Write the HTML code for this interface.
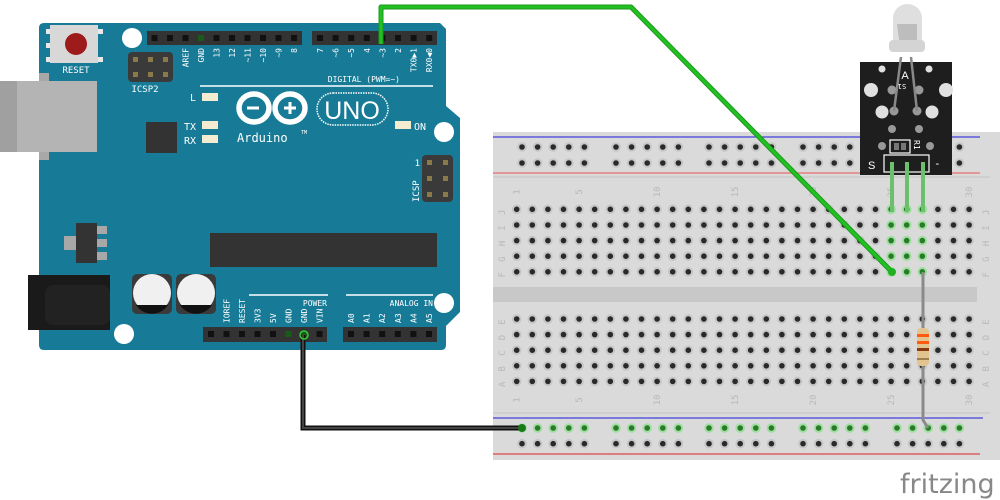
<!DOCTYPE html>
<html><head><meta charset="utf-8"><style>
html,body{margin:0;padding:0;background:#fff;width:1000px;height:500px;overflow:hidden}
svg{display:block}
text{font-family:"DejaVu Sans Mono","Liberation Mono",monospace}
</style></head><body>
<svg id="s" width="1000" height="500" viewBox="0 0 1000 500" xmlns="http://www.w3.org/2000/svg">
<!-- Breadboard -->
<rect x="493" y="132" width="507" height="328" fill="#dadada"/>
<rect x="493" y="287" width="484" height="15" fill="#c8c8c8"/>
<line x1="493" y1="137" x2="980" y2="137" stroke="#1a1ae0" stroke-width="1"/>
<line x1="493" y1="173" x2="980" y2="173" stroke="#e88080" stroke-width="1.5"/>
<line x1="493" y1="177" x2="990" y2="177" stroke="#c4c4c4" stroke-width="1"/>
<line x1="493" y1="413" x2="990" y2="413" stroke="#c4c4c4" stroke-width="1"/>
<line x1="493" y1="418" x2="983" y2="418" stroke="#1a1ae0" stroke-width="1"/>
<line x1="493" y1="454" x2="980" y2="454" stroke="#e02020" stroke-width="1"/>
<g id="holes"></g>
<g id="bblabels" fill="#b8b8b8" font-size="9"></g>

<!-- Arduino -->
<path d="M44,23 L440,23 L446,29 L446,106 L460,118 L460,312 L446,326 L446,345 Q446,350 441,350 L44,350 Q39,350 39,345 L39,28 Q39,23 44,23 Z" fill="#177b97"/>
<rect x="39" y="73" width="10" height="87" fill="#a8a8a8"/>
<rect x="0" y="81" width="97" height="71" fill="#b4b4b4"/>
<rect x="0" y="81" width="17" height="71" fill="#a0a0a0"/>
<circle cx="132" cy="38" r="10" fill="#fff"/>
<circle cx="444" cy="132" r="10" fill="#fff"/>
<circle cx="124" cy="334" r="10" fill="#fff"/>
<circle cx="444" cy="303" r="10" fill="#fff"/>
<!-- reset -->
<rect x="46" y="29" width="6" height="5" fill="#e8e8e8"/><rect x="46" y="43" width="6" height="5" fill="#e8e8e8"/><rect x="46" y="57" width="6" height="5" fill="#e8e8e8"/>
<rect x="97" y="29" width="6" height="5" fill="#e8e8e8"/><rect x="97" y="57" width="6" height="5" fill="#e8e8e8"/>
<rect x="50" y="25" width="48" height="38" fill="#d8d8d8"/>
<circle cx="76" cy="44" r="11" fill="#9e1b1b"/>
<text x="76" y="73" font-size="9" fill="#fff" text-anchor="middle">RESET</text>
<!-- ICSP2 -->
<rect x="128" y="52" width="45" height="30" rx="4" fill="#3a3a3a"/>
<g fill="#8a7a4a"><rect x="133" y="57" width="5" height="5"/><rect x="148" y="57" width="5" height="5"/><rect x="163" y="57" width="5" height="5"/><rect x="133" y="72" width="5" height="5"/><rect x="148" y="72" width="5" height="5"/><rect x="163" y="72" width="5" height="5"/></g>
<text x="145" y="92" font-size="9" fill="#fff" text-anchor="middle">ICSP2</text>
<!-- headers -->
<rect x="147" y="31" width="155" height="14" fill="#333"/>
<rect x="312" y="31" width="125" height="14" fill="#333"/>
<rect x="203" y="327" width="124" height="15" fill="#333"/>
<rect x="343" y="327" width="94" height="15" fill="#333"/>
<g id="pins" fill="#111"></g>
<g id="plabels" fill="#fff" font-size="8"></g>
<line x1="200" y1="86" x2="433" y2="86" stroke="#fff" stroke-width="1.5"/>
<text x="400" y="82" font-size="8" fill="#fff" text-anchor="end">DIGITAL (PWM=~)</text>
<line x1="249" y1="295" x2="328" y2="295" stroke="#fff" stroke-width="1.5"/>
<line x1="346" y1="295" x2="433" y2="295" stroke="#fff" stroke-width="1.5"/>
<text x="327" y="306" font-size="8" fill="#fff" text-anchor="end">POWER</text>
<text x="433" y="306" font-size="8" fill="#fff" text-anchor="end">ANALOG IN</text>
<!-- LEDs -->
<g fill="#f4ecd0"><rect x="202" y="93" width="16" height="8"/><rect x="202" y="121" width="16" height="8"/><rect x="202" y="135" width="16" height="8"/><rect x="395" y="121" width="16" height="8"/></g>
<text x="190" y="101" font-size="10" fill="#fff">L</text>
<text x="184" y="130" font-size="10" fill="#fff">TX</text>
<text x="184" y="144" font-size="10" fill="#fff">RX</text>
<text x="414" y="130" font-size="10" fill="#fff">ON</text>
<!-- logo -->
<g fill="none" stroke="#fff" stroke-width="5.5">
<ellipse cx="254" cy="108" rx="15" ry="14"/><ellipse cx="290" cy="108" rx="15" ry="14"/></g>
<g stroke="#fff" stroke-width="3"><line x1="247" y1="108" x2="259" y2="108"/><line x1="284" y1="108" x2="296" y2="108"/><line x1="290" y1="102" x2="290" y2="114"/></g>
<rect x="317" y="93" width="71" height="32" rx="16" fill="none" stroke="#fff" stroke-width="1.5" stroke-dasharray="1.5 1"/>
<text x="352" y="119" font-size="25" fill="#fff" text-anchor="middle" style="font-family:'Liberation Sans',sans-serif">UNO</text>
<text x="237" y="142" font-size="12" fill="#fff">Arduino</text>
<text x="301" y="134" font-size="5" fill="#fff">TM</text>
<!-- chips -->
<rect x="146" y="122" width="31" height="31" fill="#333"/>
<rect x="210" y="233" width="227" height="34" fill="#333"/>
<rect x="64" y="236" width="12" height="14" fill="#a8a8a8"/>
<rect x="97" y="226" width="10" height="8" fill="#a8a8a8"/><rect x="97" y="239" width="10" height="8" fill="#a8a8a8"/><rect x="97" y="252" width="10" height="8" fill="#a8a8a8"/>
<rect x="76" y="223" width="21" height="40" fill="#333"/>
<!-- ICSP -->
<rect x="422" y="155" width="31" height="47" rx="4" fill="#3a3a3a"/>
<g fill="#8a7a4a"><rect x="427" y="160" width="5" height="5"/><rect x="443" y="160" width="5" height="5"/><rect x="427" y="176" width="5" height="5"/><rect x="443" y="176" width="5" height="5"/><rect x="427" y="192" width="5" height="5"/><rect x="443" y="192" width="5" height="5"/></g>
<text x="420" y="166" font-size="9" fill="#fff" text-anchor="end">1</text>
<text transform="translate(419,202) rotate(-90)" font-size="9" fill="#fff">ICSP</text>
<!-- power jack -->
<rect x="28" y="275" width="82" height="55" fill="#1a1a1a"/>
<rect x="45" y="285" width="65" height="40" rx="8" fill="#222"/>
<!-- caps -->
<rect x="132" y="274" width="40" height="40" rx="5" fill="#3a3a3a"/>
<rect x="176" y="274" width="40" height="40" rx="5" fill="#3a3a3a"/>
<circle cx="152" cy="293" r="19" fill="#f0f0f0"/><circle cx="196" cy="293" r="19" fill="#f0f0f0"/>
<path d="M136,305 L168,305 A19,19 0 0 1 136,305 Z" fill="#111"/>
<path d="M180,305 L212,305 A19,19 0 0 1 180,305 Z" fill="#111"/>

<!-- Sensor module -->
<rect x="860" y="62" width="92" height="113" fill="#1e1e1e"/>
<g fill="#e0e0e0"><circle cx="882" cy="69" r="3.5"/><circle cx="929" cy="69" r="3.5"/><circle cx="871" cy="90" r="7"/><circle cx="946" cy="90" r="7"/><circle cx="882" cy="112" r="6.5"/><circle cx="932" cy="112" r="6.5"/></g>
<g fill="#999"><circle cx="892" cy="90" r="4.5"/><circle cx="919" cy="90" r="4.5"/><circle cx="894" cy="111" r="4.5"/><circle cx="917" cy="111" r="4.5"/><circle cx="892" cy="129" r="4"/><circle cx="919" cy="129" r="4"/><circle cx="882" cy="146" r="4"/><circle cx="930" cy="146" r="4"/></g>
<line x1="901" y1="57" x2="894" y2="111" stroke="#888" stroke-width="2.5"/>
<line x1="911" y1="57" x2="917" y2="111" stroke="#888" stroke-width="2.5"/>
<rect x="890" y="140" width="20" height="13" fill="#1e1e1e" stroke="#fff" stroke-width="1.2"/>
<rect x="894" y="143" width="5" height="7" fill="#777"/><rect x="901" y="143" width="5" height="7" fill="#777"/>
<text transform="translate(914,140) rotate(90)" font-size="8" fill="#fff">R1</text>
<rect x="884" y="155" width="45" height="17" fill="none" stroke="#fff" stroke-width="1.2"/>
<text x="868" y="169" font-size="11" fill="#fff" style="font-family:'Liberation Sans',sans-serif">S</text>
<text x="934" y="167" font-size="11" fill="#fff">-</text>
<text x="905" y="79" font-size="11" fill="#fff" text-anchor="middle" style="font-family:'Liberation Sans',sans-serif">A</text>
<text transform="translate(902,84) rotate(180)" font-size="7" fill="#fff" text-anchor="middle">S1</text>
<!-- LED -->
<path d="M893,52 L893,18 A14.5,14 0 0 1 922,18 L922,52 Z" fill="#dcdcdc" opacity="0.9"/>
<rect x="889" y="40" width="36" height="12" rx="4" fill="#d4d4d4"/>
<path d="M897,24 L917,24 L917,40 L899,40 Z M899,26 L913,26 L899,38 Z" fill="#bdbdbd"/>
<!-- green legs -->
<g stroke="#6cbf6c" stroke-width="4"><line x1="892" y1="162" x2="892" y2="212"/><line x1="907" y1="162" x2="907" y2="212"/><line x1="923" y1="162" x2="923" y2="212"/></g>

<!-- resistor -->
<path d="M923,272 L923,420 L928,428" fill="none" stroke="#8a8a8a" stroke-width="3"/>
<rect x="917" y="328" width="12" height="38" rx="4" fill="#e2c48e"/>
<rect x="917" y="334" width="12" height="3" fill="#ff5a10"/>
<rect x="917" y="341" width="12" height="3" fill="#ff5a10"/>
<rect x="917" y="348" width="12" height="3" fill="#8a3a10"/>
<rect x="917" y="358" width="12" height="2" fill="#a08050"/>

<!-- wires -->
<path d="M381,44 L381,7 L631,7 L892,272" fill="none" stroke="#1a9a1a" stroke-width="5" stroke-linejoin="round"/>
<path d="M381,44 L381,7 L631,7 L892,272" fill="none" stroke="#22c022" stroke-width="3" stroke-linejoin="round"/>
<circle cx="892" cy="272" r="4" fill="#22b022"/>
<path d="M303,335 L303,428 L522,428" fill="none" stroke="#111" stroke-width="5"/>
<path d="M303,335 L303,428 L522,428" fill="none" stroke="#444" stroke-width="2"/>
<circle cx="304" cy="335" r="4" fill="none" stroke="#3c3" stroke-width="1.5"/>
<circle cx="522" cy="428" r="4" fill="#1a7a1a"/>

<text x="900" y="493" font-size="27" fill="#888" style="font-family:'DejaVu Sans',sans-serif">fritzing</text>
</svg>
<script>
var NS="http://www.w3.org/2000/svg";
function el(p,t,a,txt){var e=document.createElementNS(NS,t);for(var k in a)e.setAttribute(k,a[k]);if(txt)e.textContent=txt;document.getElementById(p).appendChild(e);return e;}
function hole(x,y,g){el("holes","circle",{cx:x,cy:y,r:4.8,fill:g?"#9ede9e":"#c6c6c6"});el("holes","circle",{cx:x,cy:y,r:2.8,fill:g?"#2a7a2a":"#2a2a2a"});}
var gs=[522,616,709,803,897];
gs.forEach(function(g){for(var i=0;i<5;i++){var x=g+i*15.6;hole(x,147);hole(x,163);hole(x,428,true);hole(x,443.7);}});
var ys=[209.3,225,240.6,256.2,271.8,319,334.6,350.2,365.8,381.4];
for(var c=0;c<30;c++){var x=516.7+c*15.6;ys.forEach(function(y,r){var g=(c>=24&&c<=26&&r<5);if(c>=24&&c<=26&&r==0)return;hole(x,y,g);});}
[24,25,26].forEach(function(c){hole(516.7+c*15.6,209.3,true);});
var L="JIHGFEDCBA";
ys.forEach(function(y,r){el("bblabels","text",{transform:"translate(505,"+(y+3)+") rotate(-90)","text-anchor":"middle"},L[r]);el("bblabels","text",{transform:"translate(989,"+(y+3)+") rotate(-90)","text-anchor":"middle"},L[r]);});
[1,5,10,15,20,25,30].forEach(function(n){var x=516.7+(n-1)*15.6+3;el("bblabels","text",{transform:"translate("+x+",192) rotate(-90)","text-anchor":"middle"},n);el("bblabels","text",{transform:"translate("+x+",400) rotate(-90)","text-anchor":"middle"},n);});
for(var i=0;i<10;i++){var x=154.5+i*15.5;el("pins","rect",{x:x-3,y:35,width:6,height:6,fill:i==3?"#1a5a1a":"#111"});}
for(var i=0;i<8;i++){el("pins","rect",{x:320+i*15.6-3,y:35,width:6,height:6});}
for(var i=0;i<8;i++){el("pins","rect",{x:211+i*15.5-3,y:331,width:6,height:6,fill:(i==5||i==6)?"#1a5a1a":"#111"});}
for(var i=0;i<6;i++){el("pins","rect",{x:351+i*15.6-3,y:331,width:6,height:6});}
var tl=["AREF","GND","13","12","~11","~10","~9","8"];
tl.forEach(function(t,i){var x=185.5+i*15.5+3;el("plabels","text",{transform:"translate("+x+",48) rotate(-90)","text-anchor":"end"},t);});
var tl2=["7","~6","~5","4","~3","2","TX0▶1","RX0◀0"];
tl2.forEach(function(t,i){var x=320+i*15.6+3;el("plabels","text",{transform:"translate("+x+",48) rotate(-90)","text-anchor":"end"},t);});
var bl=["","IOREF","RESET","3V3","5V","GND","GND","VIN"];
bl.forEach(function(t,i){var x=211+i*15.5+3;el("plabels","text",{transform:"translate("+x+",323) rotate(-90)"},t);});
["A0","A1","A2","A3","A4","A5"].forEach(function(t,i){var x=351+i*15.6+3;el("plabels","text",{transform:"translate("+x+",323) rotate(-90)"},t);});
</script>
</body></html>
